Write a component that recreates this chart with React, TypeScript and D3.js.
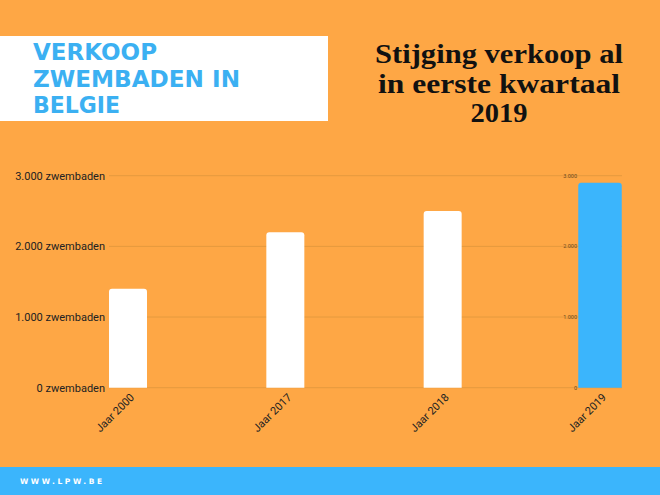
import * as d3 from "d3";

const years = ["Jaar 2000", "Jaar 2017", "Jaar 2018", "Jaar 2019"];
const sales = [1400, 2200, 2500, 2900];
const yTicks = [0, 1000, 2000, 3000];
const titleLines = ["VERKOOP", "ZWEMBADEN IN", "BELGIE"];
const titleWidths = [124, 207, 87];
const subtitleLines = ["Stijging verkoop al", "in eerste kwartaal", "2019"];
const subtitleWidths = [248, 242, 57];

const W = 660;
const H = 495;
const ORANGE = "#FEA745";
const BLUE = "#3BB5FC";
const GRID = "#E59A3E";

const fmt = (v: number) => d3.format(",")(v).replace(/,/g, ".");

const App = () => {
  const x = d3.scalePoint<string>().domain(years).range([128, 600]);
  const y = d3.scaleLinear().domain([0, 3000]).range([387.7, 175.7]);

  const barPath = (cx: number, w: number, v: number) => {
    const x0 = cx - w / 2;
    const y0 = y(v);
    const y1 = y(0);
    const r = 3;
    return `M${x0},${y1}V${y0 + r}Q${x0},${y0} ${x0 + r},${y0}H${x0 + w - r}Q${x0 + w},${y0} ${x0 + w},${y0 + r}V${y1}Z`;
  };

  return (
    <svg
      width={W}
      height={H}
      style={{ position: "absolute", left: 0, top: 0, display: "block" }}
    >
      <rect width={W} height={H} fill={ORANGE} />

      {/* title box */}
      <rect x={0} y={36} width={328} height={85} fill="#fff" />
      <g fontFamily="'DejaVu Sans', sans-serif" fontWeight="bold" fontSize={23.5} fill="#3BB0F2">
        {titleLines.map((t, i) => (
          <text
            key={t}
            x={33}
            y={60 + i * 26.5}
            textLength={titleWidths[i]}
            lengthAdjust="spacingAndGlyphs"
          >
            {t}
          </text>
        ))}
      </g>

      <g fontFamily="'Liberation Serif', serif" fontWeight="bold" fontSize={27} fill="#111">
        {subtitleLines.map((t, i) => (
          <text
            key={t}
            x={499 - subtitleWidths[i] / 2}
            y={63 + i * 29.5}
            textLength={subtitleWidths[i]}
            lengthAdjust="spacingAndGlyphs"
          >
            {t}
          </text>
        ))}
      </g>

      {/* grid + y axis */}
      <g fontFamily="Roboto, sans-serif" fontSize={11} fill="#222">
        {yTicks.map((t) => (
          <g key={t}>
            <line x1={109} x2={622} y1={y(t)} y2={y(t)} stroke={GRID} strokeWidth={1} />
            <text x={105} y={y(t)} dy="0.35em" textAnchor="end">
              {fmt(t)} zwembaden
            </text>
          </g>
        ))}
      </g>

      {/* small axis of the overlaid 2019 chart */}
      <g fontFamily="Roboto, sans-serif" fontSize={5.5} fill="#6b4a20">
        {yTicks.map((t) => (
          <text key={t} x={577} y={y(t)} dy="0.35em" textAnchor="end">
            {fmt(t)}
          </text>
        ))}
      </g>

      {/* bars */}
      {years.map((yr, i) => {
        const last = i === years.length - 1;
        return (
          <path
            key={yr}
            d={barPath(x(yr) as number, last ? 43.5 : 38, sales[i])}
            fill={last ? BLUE : "#fff"}
          />
        );
      })}

      {/* x labels */}
      <g fontFamily="Roboto, sans-serif" fontSize={11} fill="#222">
        {years.map((yr) => {
          const cx = (x(yr) as number) + 7;
          return (
            <text
              key={yr}
              x={cx}
              y={398}
              textAnchor="end"
              transform={`rotate(-45 ${cx} 398)`}
            >
              {yr}
            </text>
          );
        })}
      </g>

      {/* footer */}
      <rect x={0} y={467} width={W} height={28} fill={BLUE} />
      <text
        x={20}
        y={484}
        fontFamily="'DejaVu Sans', sans-serif"
        fontWeight="bold"
        fontSize={7.5}
        letterSpacing={2.6}
        fill="#fff"
      >
        WWW.LPW.BE
      </text>
    </svg>
  );
};

export default App;
